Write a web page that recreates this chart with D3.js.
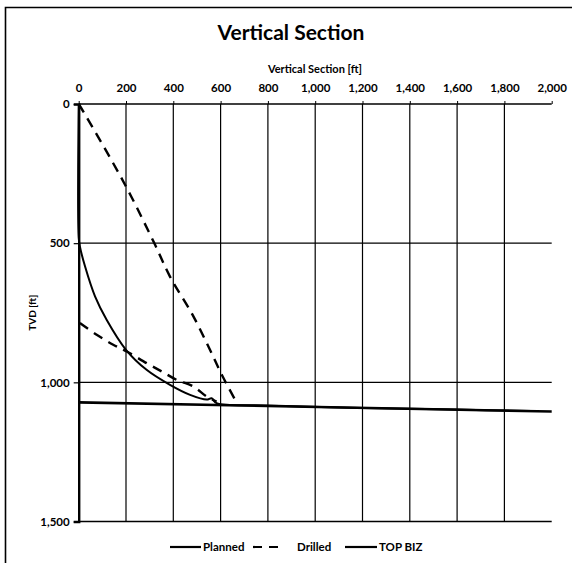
<!DOCTYPE html>
<html>
<head>
<meta charset="utf-8">
<script src="https://cdn.jsdelivr.net/npm/d3@7"></script>
<style>
  body { margin: 0; background: #fff; }
  text { font-family: Lato, "Open Sans", sans-serif; font-weight: bold; fill: #000; }
</style>
</head>
<body>
<div id="chart"></div>
<script>
// data (ft)
const xTicks = [0, 200, 400, 600, 800, 1000, 1200, 1400, 1600, 1800, 2000];
const yTicks = [0, 500, 1000, 1500];

const plannedVs  = [0, 0, 5, 27, 69, 118, 200, 287, 386, 471, 541, 562, 583, 800, 1200, 1600, 1915];
const plannedTvd = [0, 480, 512, 584, 691, 775, 883, 955, 1009, 1045, 1062, 1057, 1075, 1083, 1092, 1098, 1103];

// drilled has two pieces, null marks the gap
const drilledVs  = [0, 27, 196, 323, 386, 485, 555, 605, 661, null, 5, 76, 146, 203, 287, 351, 414, 485, 541, 583];
const drilledTvd = [0, 38, 290, 506, 620, 763, 883, 973, 1062, null, 787, 829, 865, 889, 931, 961, 991, 1015, 1051, 1069];

const topBizVs  = [0, 2000];
const topBizTvd = [1072, 1105];

const width = 572;
const height = 563;

const svg = d3.select("#chart").append("svg")
  .attr("width", width)
  .attr("height", height);

svg.append("rect").attr("width", width).attr("height", height).attr("fill", "#fff");

// outer frame (right/bottom fall outside the picture)
svg.append("path")
  .attr("d", `M5.5,${height}V7.5H${width}`)
  .attr("fill", "none").attr("stroke", "#000").attr("stroke-width", 1.6);

const x = d3.scaleLinear().domain([0, 2000]).range([78.7, 551.7]);
const y = d3.scaleLinear().domain([0, 1500]).range([104, 521.5]);

svg.append("text").attr("x", 291).attr("y", 39.5)
  .attr("text-anchor", "middle").style("font-size", "21px")
  .text("Vertical Section");

// grid
svg.append("g").selectAll("line").data(xTicks.slice(1, -1)).join("line")
  .attr("x1", d => x(d)).attr("x2", d => x(d))
  .attr("y1", y(0)).attr("y2", y(1500))
  .attr("stroke", "#000").attr("stroke-width", 1.2);
svg.append("g").selectAll("line").data(yTicks).join("line")
  .attr("x1", x(0)).attr("x2", x(2000))
  .attr("y1", d => y(d)).attr("y2", d => y(d))
  .attr("stroke", "#000").attr("stroke-width", d => d === 0 || d === 1500 ? 1.6 : 1.2);

// x axis on top
const xAxis = svg.append("g").attr("transform", `translate(0,${y(0)})`)
  .call(d3.axisTop(x).tickValues(xTicks).tickSize(3).tickPadding(9).tickFormat(d3.format(",")));
xAxis.select(".domain").remove();
xAxis.selectAll("line").attr("stroke", "#000");
xAxis.selectAll("text").style("font-size", "11.5px").attr("font-family", null);

svg.append("text").attr("x", 315).attr("y", 73)
  .attr("text-anchor", "middle").style("font-size", "11px")
  .text("Vertical Section [ft]");

// y axis
const yAxis = svg.append("g").attr("transform", `translate(${x(0)},0)`)
  .call(d3.axisLeft(y).tickValues(yTicks).tickSize(5).tickPadding(4).tickFormat(d3.format(",")));
yAxis.select(".domain").attr("stroke", "#000").attr("stroke-width", 2.4);
yAxis.selectAll("line").attr("stroke", "#000").attr("stroke-width", 1.2);
yAxis.selectAll("text").style("font-size", "11.5px").attr("font-family", null);

svg.append("text")
  .attr("transform", `translate(36,${(y(0) + y(1500)) / 2}) rotate(-90)`)
  .attr("text-anchor", "middle").style("font-size", "10px")
  .text("TVD [ft]");

// series
const line = d3.line()
  .defined(d => d[0] !== null)
  .curve(d3.curveCatmullRom)
  .x(d => x(d[0])).y(d => y(d[1]));

svg.append("path")
  .datum(topBizVs.map((v, i) => [v, topBizTvd[i]]))
  .attr("d", line).attr("fill", "none")
  .attr("stroke", "#000").attr("stroke-width", 2.6);

svg.append("path")
  .datum(plannedVs.map((v, i) => [v, plannedTvd[i]]))
  .attr("d", line).attr("fill", "none")
  .attr("stroke", "#000").attr("stroke-width", 2);

svg.append("path")
  .datum(drilledVs.map((v, i) => [v, drilledTvd[i]]))
  .attr("d", line).attr("fill", "none")
  .attr("stroke", "#000").attr("stroke-width", 2.4)
  .attr("stroke-dasharray", "10,7");

// legend
const legend = [
  { name: "Planned", x1: 170, x2: 201, dash: null },
  { name: "Drilled", x1: 253, x2: 285, dash: "9,7" },
  { name: "TOP BIZ", x1: 345, x2: 377, dash: null }
];
const lg = svg.append("g").attr("transform", "translate(0,547)");
lg.selectAll("line").data(legend).join("line")
  .attr("x1", d => d.x1).attr("x2", d => d.x2)
  .attr("stroke", "#000").attr("stroke-width", 2.2)
  .attr("stroke-dasharray", d => d.dash);
lg.selectAll("text").data(legend).join("text")
  .attr("x", d => d.x2 + (d.dash ? 12 : 2)).attr("y", 4)
  .style("font-size", "11.5px")
  .text(d => d.name);
</script>
</body>
</html>
